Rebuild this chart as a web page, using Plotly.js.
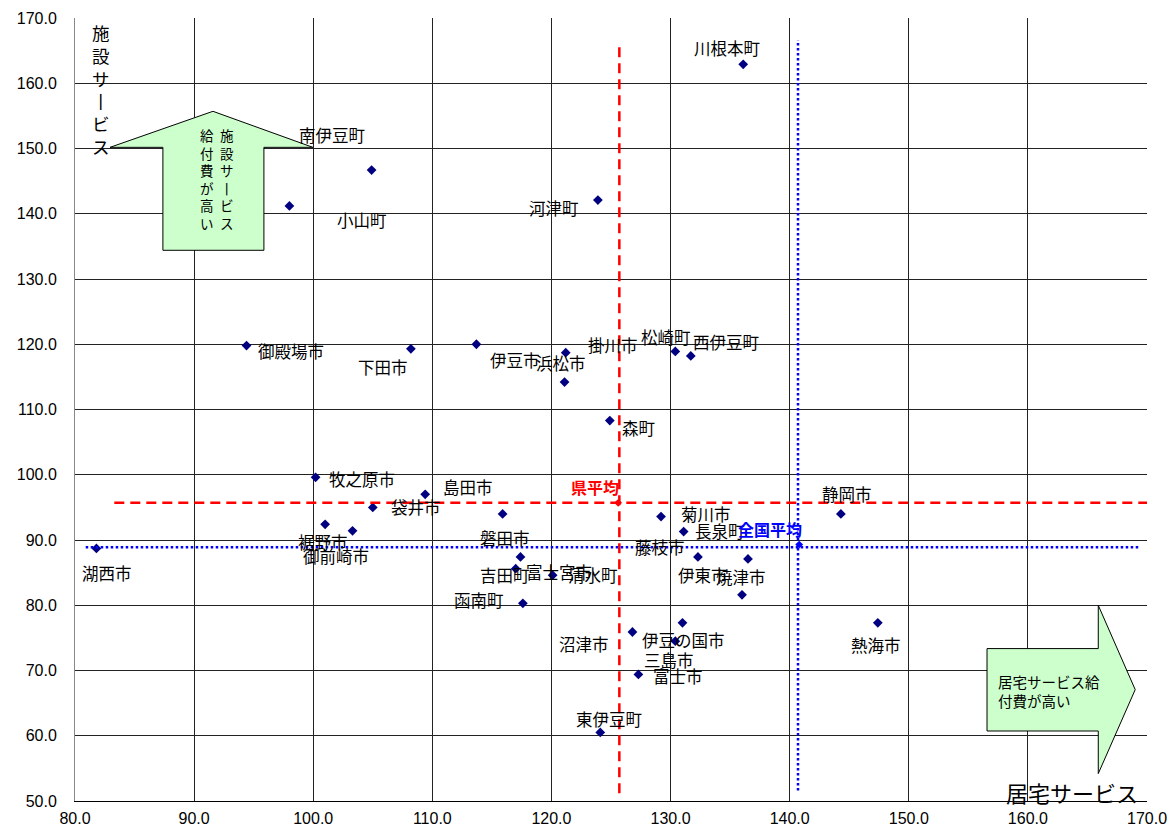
<!DOCTYPE html>
<html>
<head>
<meta charset="utf-8">
<script src="https://cdn.plot.ly/plotly-3.0.1.min.js"></script>
<style>html,body{margin:0;padding:0;background:#fff;}#chart{width:1171px;height:827px;}</style>
</head>
<body>
<div id="chart"></div>
<script>
// ---- data ----
const names = ['川根本町','南伊豆町','小山町','河津町','御殿場市','下田市','牧之原市','島田市','袋井市','裾野市',
  '御前崎市','湖西市','伊豆市','掛川市','浜松市','森町','松崎町','西伊豆町','磐田市','菊川市',
  '長泉町','富士宮市','吉田町','清水町','藤枝市','焼津市','伊東市','静岡市','熱海市','函南町',
  '沼津市','伊豆の国市','三島市','富士市','東伊豆町'];
const homeCare = [136.1,104.9,98.0,123.9,94.4,108.2,100.2,109.4,105.0,101.0,
  103.3,81.8,113.7,121.2,121.1,124.9,130.4,131.7,115.9,129.2,
  131.1,117.4,117.0,120.1,132.3,136.5,136.0,144.3,147.4,117.6,
  126.8,131.0,130.4,127.3,124.1];
const facilityCare = [162.9,146.7,141.2,142.1,119.8,119.3,99.6,97.0,95.0,92.4,
  91.4,88.7,120.0,118.7,114.2,108.3,118.9,118.2,94.0,93.6,
  91.3,87.4,85.6,84.6,87.4,87.1,81.6,94.0,77.3,80.3,
  75.9,77.3,74.5,69.4,60.5];
const avgNames = ['県平均','全国平均'];
const avgHome = [125.6,140.8];
const avgFacility = [95.7,89.3];
const avgLineX = [125.7,140.7];
const avgLineY = [95.7,88.9];
const xTicks = [80,90,100,110,120,130,140,150,160,170];
const yTicks = [50,60,70,80,90,100,110,120,130,140,150,160,170];

// ---- label offsets (pixels, style only) ----
const labelDx = [-16,-40,73,-44,44,-28,46,43,43,-2,
  -17,11,39,47,-4,29,-9,35,2,45,
  36,39,-11,40,-38,-7,-39,6,-2,-44,
  -48,1,-6,40,9];
const labelDy = [-16,-35,14,8,5,18,2,-7,0,18,
  25,25,16,-8,-19,7,-14,-14,24,-3,
  -1,15,6,0,-10,18,-20,-20,22,-3,
  12,17,19,2,-13];
const avgDx = [-23,-29];
const avgDy = [-16,-16];
const avgColors = ['#ff0000','#0000ff'];

const JP = '"Noto Sans CJK JP", "Noto Sans", sans-serif';

const traces = [
  {x: homeCare, y: facilityCare, text: names, type:'scatter', mode:'markers',
   marker:{symbol:'diamond', size:7.5, color:'#000080'}, hoverinfo:'text+x+y'},
  {x: avgHome, y: avgFacility, text: avgNames, type:'scatter', mode:'markers',
   marker:{symbol:'diamond', size:6, color:avgColors}, hoverinfo:'text+x+y'}
];

const annotations = [];
names.forEach((n,i)=>{
  annotations.push({x: homeCare[i], y: facilityCare[i], xref:'x', yref:'y', text:n, showarrow:false,
    xshift: labelDx[i], yshift: -labelDy[i], xanchor:'center', yanchor:'middle',
    font:{family:JP, size:16.5, color:'#000'}});
});
avgNames.forEach((n,i)=>{
  annotations.push({x: avgHome[i], y: avgFacility[i], xref:'x', yref:'y', text:'<b>'+n+'</b>', showarrow:false,
    xshift: avgDx[i], yshift: -avgDy[i], xanchor:'center', yanchor:'middle',
    font:{family:JP, size:16, color:avgColors[i]}});
});
// axis titles
annotations.push({xref:'paper', yref:'paper', x:0.024, y:1.0, xanchor:'center', yanchor:'top',
  text:'施<br>設<br>サ<br>丨<br>ビ<br>ス', showarrow:false, font:{family:JP, size:17.5, color:'#000'}});
annotations.push({xref:'paper', yref:'paper', x:0.93, y:0.011, xanchor:'center', yanchor:'middle',
  text:'居宅サービス', showarrow:false, font:{family:JP, size:22, color:'#000'}});
// arrow texts
annotations.push({xref:'x', yref:'y', x:92.73, y:145.4, xanchor:'center', yanchor:'middle',
  text:'施<br>設<br>サ<br>丨<br>ビ<br>ス', showarrow:false, font:{family:JP, size:13.5, color:'#000'}});
annotations.push({xref:'x', yref:'y', x:91.1, y:145.4, xanchor:'center', yanchor:'middle',
  text:'給<br>付<br>費<br>が<br>高<br>い', showarrow:false, font:{family:JP, size:13.5, color:'#000'}});
annotations.push({xref:'x', yref:'y', x:157.3, y:66.8, xanchor:'left', yanchor:'middle', align:'left',
  text:'居宅サービス給<br>付費が高い', showarrow:false, font:{family:JP, size:14.5, color:'#000'}});

const shapes = [
  // up arrow
  {type:'path', xref:'x', yref:'y', layer:'above',
   path:'M91.58,155.7 L99.97,150.18 L95.86,150.18 L95.86,134.4 L87.38,134.4 L87.38,150.18 L82.94,150.18 Z',
   fillcolor:'#ccffcc', line:{color:'#000', width:1}},
  // right arrow
  {type:'path', xref:'x', yref:'y', layer:'above',
   path:'M156.57,73.36 L165.91,73.36 L165.91,79.99 L169.01,67.07 L165.91,54.2 L165.91,60.73 L156.57,60.73 Z',
   fillcolor:'#ccffcc', line:{color:'#000', width:1}},
  // prefecture average lines
  {type:'line', xref:'x', yref:'y', x0:avgLineX[0], x1:avgLineX[0], y0:51.2, y1:166.0,
   line:{color:'#ff0000', width:2.5, dash:'10px,6px'}},
  {type:'line', xref:'x', yref:'y', x0:83.3, x1:170, y0:avgLineY[0], y1:avgLineY[0],
   line:{color:'#ff0000', width:2.5, dash:'10px,6px'}},
  // national average lines
  {type:'line', xref:'x', yref:'y', x0:avgLineX[1], x1:avgLineX[1], y0:51.6, y1:166.6,
   line:{color:'#0000ff', width:2.5, dash:'2.5px,2.5px'}},
  {type:'line', xref:'x', yref:'y', x0:80.9, x1:169.3, y0:avgLineY[1], y1:avgLineY[1],
   line:{color:'#0000ff', width:2.5, dash:'2.5px,2.5px'}}
];

const layout = {
  width:1171, height:827,
  margin:{l:75, r:24, t:18, b:26, pad:0},
  paper_bgcolor:'#fff', plot_bgcolor:'#fff',
  showlegend:false,
  xaxis:{range:[80,170], tickvals:xTicks, tickformat:'.1f', showgrid:true, gridcolor:'#222', gridwidth:1,
    zeroline:false, showline:true, linecolor:'#000', linewidth:1, ticks:'', ticklabelstandoff:3,
    tickfont:{family:'"Liberation Sans", Arial, sans-serif', size:16, color:'#000'}},
  yaxis:{range:[50,170], tickvals:yTicks, tickformat:'.1f', showgrid:true, gridcolor:'#222', gridwidth:1,
    zeroline:false, showline:true, linecolor:'#888', linewidth:1, ticks:'', ticklabelstandoff:14,
    tickfont:{family:'"Liberation Sans", Arial, sans-serif', size:16, color:'#000'}},
  annotations: annotations,
  shapes: shapes
};

Plotly.newPlot('chart', traces, layout, {displayModeBar:false, staticPlot:true});
</script>
</body>
</html>
